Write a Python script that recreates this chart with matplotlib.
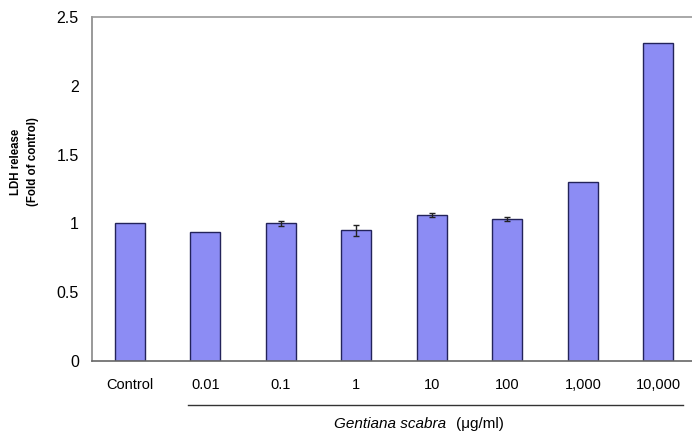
import matplotlib
matplotlib.use("Agg")
import matplotlib.pyplot as plt
import numpy as np

plt.rcParams['font.family'] = ['Liberation Sans', 'DejaVu Sans']

categories = ["Control", "0.01", "0.1", "1", "10", "100", "1,000", "10,000"]
ldh_release = [1.00, 0.94, 1.00, 0.95, 1.06, 1.03, 1.30, 2.31]
ldh_error = [0.0, 0.0, 0.02, 0.04, 0.015, 0.015, 0.0, 0.0]
y_ticks = [0, 0.5, 1, 1.5, 2, 2.5]
y_tick_labels = ["0", "0.5", "1", "1.5", "2", "2.5"]

W, H = 692, 433
fig = plt.figure(figsize=(W / 100, H / 100), dpi=100)
ax = fig.add_axes([0.133, 0.166, 0.873, 0.795])

x = np.arange(len(categories))
err = [e if e > 0 else np.nan for e in ldh_error]
ax.bar(x, ldh_release, width=0.4, color="#8c8cf4", edgecolor="#23235a",
       linewidth=1.0, zorder=2)
ax.errorbar(x, ldh_release, yerr=err, fmt="none", ecolor="#222222",
            elinewidth=1.0, capsize=2.5, capthick=1.0, zorder=3)

ax.set_xlim(-0.5, len(categories) - 0.5)
ax.set_ylim(0, 2.5)
ax.set_yticks(y_ticks)
ax.set_yticklabels(y_tick_labels, fontsize=11.5)
ax.set_xticks(x)
ax.set_xticklabels(categories, fontsize=10.5)
ax.tick_params(axis="x", length=0, pad=12)
ax.tick_params(axis="y", length=0, pad=9.5)

ax.spines["top"].set_color("#999999")
ax.spines["left"].set_color("#888888")
ax.spines["bottom"].set_color("#666666")
for side in ["left", "top", "bottom"]:
    ax.spines[side].set_linewidth(1.2)
ax.spines["right"].set_visible(False)

# y-axis title, placed in figure pixels
fig.text(24.5 / W, 1 - 162 / H, "LDH release\n(Fold of control)", rotation=90,
         ha="center", va="center", fontsize=8.3, fontweight="bold",
         linespacing=1.5)

# bracket line under the extract concentrations
ax.plot([0.77, 7.32], [-0.32, -0.32], color="#333333", linewidth=1.0,
        clip_on=False)
ax.text(4.19, -0.455, "Gentiana scabra", ha="right", va="center",
        fontsize=11, style="italic")
ax.text(4.32, -0.455, "(μg/ml)", ha="left", va="center", fontsize=11)

fig.savefig("out.png", dpi=100)
